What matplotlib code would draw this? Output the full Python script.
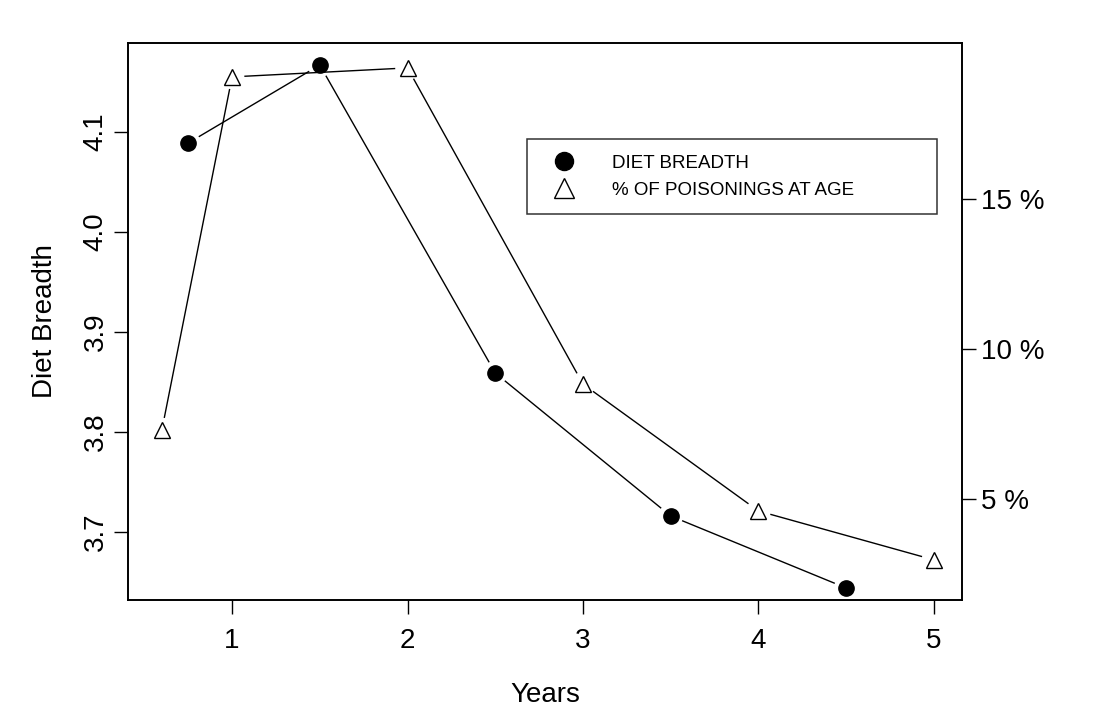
import numpy as np
import matplotlib
matplotlib.use('Agg')
import matplotlib.pyplot as plt

plt.rcParams['font.family'] = ['Liberation Sans', 'DejaVu Sans']

# data
breadth_years = [0.75, 1.5, 2.5, 3.5, 4.5]
diet_breadth = [4.089, 4.167, 3.859, 3.716, 3.644]

pois_years = [0.6, 1, 2, 3, 4, 5]
pois_pct = [7.3, 19.07, 19.37, 8.83, 4.6, 2.97]

x_ticks = [1, 2, 3, 4, 5]
left_ticks = [3.7, 3.8, 3.9, 4.0, 4.1]
right_ticks = [5, 10, 15]
right_labels = ['5 %', '10 %', '15 %']


def gapped_line(ax, xs, ys, gap=13, **kw):
    # R type="b" style: segments stop short of each point
    pts = ax.transData.transform(np.column_stack([xs, ys]))
    inv = ax.transData.inverted()
    for p, q in zip(pts[:-1], pts[1:]):
        d = q - p
        n = np.hypot(*d)
        if n <= 2 * gap:
            continue
        u = d / n
        seg = inv.transform(np.array([p + u * gap, q - u * gap]))
        ax.plot(seg[:, 0], seg[:, 1], **kw)


fig = plt.figure(figsize=(10.93, 7.28), dpi=100)
ax = fig.add_axes([128 / 1093, 1 - 600 / 728, (962 - 128) / 1093, (600 - 43) / 728])
ax2 = ax.twinx()

ax.set_xlim(0.407, 5.16)
ax.set_ylim(3.632, 4.189)
ax2.set_ylim(15 - (600 - 199) / 30, 15 + (199 - 43) / 30)

gapped_line(ax, breadth_years, diet_breadth, color='black', lw=1.0)
ax.plot(breadth_years, diet_breadth, 'o', color='black', markersize=11, linestyle='none')

gapped_line(ax2, pois_years, pois_pct, color='black', lw=1.0)
ax2.plot(pois_years, pois_pct, '^', markerfacecolor='white', markeredgecolor='black',
         markersize=11.5, markeredgewidth=1.0, linestyle='none')

ax.set_xticks(x_ticks)
ax.set_xticklabels([str(v) for v in x_ticks])
ax.set_yticks(left_ticks)
ax.set_yticklabels(['%.1f' % v for v in left_ticks], rotation=90, va='center')
ax2.set_yticks(right_ticks)
ax2.set_yticklabels(right_labels)

for a in (ax, ax2):
    a.tick_params(direction='out', length=10, width=1, labelsize=20, pad=4)
    for s in a.spines.values():
        s.set_linewidth(1.2)
ax.tick_params(axis='x', pad=10)

ax.set_xlabel('Years', fontsize=20, labelpad=20)
ax.set_ylabel('Diet Breadth', fontsize=20, labelpad=18)

# legend
h1 = plt.Line2D([], [], marker='o', color='black', markersize=13, linestyle='none')
h2 = plt.Line2D([], [], marker='^', markerfacecolor='white', markeredgecolor='black',
                markersize=14, markeredgewidth=1.0, linestyle='none')
leg = ax2.legend([h1, h2], ['DIET BREADTH', '% OF POISONINGS AT AGE'],
                 loc='upper left', mode='expand',
                 bbox_to_anchor=((527 - 128) / 834, 1 - (139 - 43) / 557,
                                 (937 - 527) / 834, 0),
                 fontsize=13.5, frameon=True, fancybox=False, edgecolor='black',
                 handlelength=2.2, handletextpad=1.5, borderpad=0.85, labelspacing=0.5,
                 borderaxespad=0)
leg.get_frame().set_linewidth(1.1)

fig.savefig('out.png', dpi=100)
